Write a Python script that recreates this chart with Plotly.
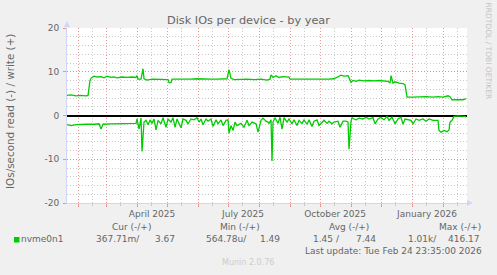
import plotly.graph_objects as go

# ---------------- data ----------------
write_dates = [
    "2025-01-21", "2025-01-25", "2025-01-30", "2025-02-04", "2025-02-09", "2025-02-11",
    "2025-02-13", "2025-02-14", "2025-02-17", "2025-02-20", "2025-02-24", "2025-02-27",
    "2025-03-02", "2025-03-06", "2025-03-09", "2025-03-12", "2025-03-17", "2025-03-22",
    "2025-03-27", "2025-03-31", "2025-04-01", "2025-04-02", "2025-04-05", "2025-04-07",
    "2025-04-08", "2025-04-11", "2025-04-16", "2025-04-21", "2025-04-28", "2025-05-02",
    "2025-05-03", "2025-05-05", "2025-05-06", "2025-05-11", "2025-05-18", "2025-05-25",
    "2025-05-31", "2025-06-07", "2025-06-14", "2025-06-20", "2025-06-27", "2025-06-30",
    "2025-07-02", "2025-07-04", "2025-07-07", "2025-07-14", "2025-07-20", "2025-07-27",
    "2025-08-03", "2025-08-09", "2025-08-12", "2025-08-13", "2025-08-15", "2025-08-18",
    "2025-08-21", "2025-08-25", "2025-08-28", "2025-08-31", "2025-09-01", "2025-09-07",
    "2025-09-14", "2025-09-20", "2025-09-27", "2025-10-04", "2025-10-10", "2025-10-15",
    "2025-10-19", "2025-10-22", "2025-10-25", "2025-10-29", "2025-10-30", "2025-11-01",
    "2025-11-03", "2025-11-06", "2025-11-09", "2025-11-14", "2025-11-19", "2025-11-24",
    "2025-11-29", "2025-12-04", "2025-12-08", "2025-12-10", "2025-12-11", "2025-12-13",
    "2025-12-15", "2025-12-19", "2025-12-23", "2025-12-25", "2025-12-27", "2026-01-02",
    "2026-01-08", "2026-01-15", "2026-01-22", "2026-01-27", "2026-02-01", "2026-02-06",
    "2026-02-08", "2026-02-10", "2026-02-16", "2026-02-21", "2026-02-23", "2026-02-24",
]
write_ios = [
    4.6, 4.7, 4.5, 4.6, 4.5, 4.6,
    8.0, 8.5, 9.0, 8.8, 8.9, 8.6,
    9.0, 8.7, 8.8, 8.6, 8.8, 8.7,
    8.8, 8.7, 9.1, 8.3, 8.3, 10.7,
    8.4, 8.1, 8.3, 8.3, 8.3, 8.2,
    7.5, 7.5, 8.3, 8.3, 8.2, 8.3,
    8.4, 8.3, 8.3, 8.3, 8.3, 8.4,
    10.5, 8.5, 8.2, 8.3, 8.3, 8.2,
    8.3, 8.1, 8.3, 9.3, 8.7, 9.1,
    8.7, 8.9, 8.8, 8.8, 8.3, 8.3,
    8.2, 8.3, 8.3, 8.2, 8.3, 8.4,
    8.9, 9.2, 9.0, 9.1, 8.6, 7.6,
    8.0, 7.8, 8.1, 7.9, 8.0, 7.9,
    8.0, 7.8, 7.8, 7.4, 9.1, 7.4,
    7.7, 7.4, 7.3, 7.0, 4.2, 4.2,
    4.3, 4.3, 4.2, 4.3, 4.2, 4.5,
    4.3, 3.6, 3.6, 3.6, 3.8, 3.67,
]

read_dates = [
    "2025-01-21", "2025-01-25", "2025-01-30", "2025-02-04", "2025-02-10", "2025-02-17",
    "2025-02-22", "2025-02-24", "2025-02-26", "2025-03-06", "2025-03-12", "2025-03-19",
    "2025-03-26", "2025-03-31", "2025-04-01", "2025-04-03", "2025-04-05", "2025-04-06",
    "2025-04-08", "2025-04-10", "2025-04-12", "2025-04-14", "2025-04-16", "2025-04-18",
    "2025-04-20", "2025-04-22", "2025-04-25", "2025-04-27", "2025-04-30", "2025-05-02",
    "2025-05-05", "2025-05-07", "2025-05-09", "2025-05-11", "2025-05-15", "2025-05-17",
    "2025-05-20", "2025-05-22", "2025-05-25", "2025-05-28", "2025-05-31", "2025-06-02",
    "2025-06-04", "2025-06-06", "2025-06-09", "2025-06-11", "2025-06-14", "2025-06-16",
    "2025-06-19", "2025-06-21", "2025-06-24", "2025-06-26", "2025-06-29", "2025-07-01",
    "2025-07-02", "2025-07-04", "2025-07-06", "2025-07-08", "2025-07-10", "2025-07-14",
    "2025-07-17", "2025-07-20", "2025-07-22", "2025-07-25", "2025-07-29", "2025-07-31",
    "2025-08-03", "2025-08-05", "2025-08-08", "2025-08-10", "2025-08-11", "2025-08-13",
    "2025-08-14", "2025-08-15", "2025-08-17", "2025-08-20", "2025-08-22", "2025-08-24",
    "2025-08-26", "2025-08-29", "2025-08-31", "2025-09-03", "2025-09-05", "2025-09-08",
    "2025-09-10", "2025-09-13", "2025-09-15", "2025-09-18", "2025-09-20", "2025-09-23",
    "2025-09-25", "2025-09-28", "2025-09-30", "2025-10-03", "2025-10-05", "2025-10-08",
    "2025-10-10", "2025-10-13", "2025-10-15", "2025-10-19", "2025-10-21", "2025-10-24",
    "2025-10-27", "2025-10-29", "2025-10-30", "2025-11-01", "2025-11-02", "2025-11-04",
    "2025-11-06", "2025-11-09", "2025-11-13", "2025-11-16", "2025-11-19", "2025-11-23",
    "2025-11-25", "2025-11-28", "2025-12-01", "2025-12-04", "2025-12-07", "2025-12-09",
    "2025-12-12", "2025-12-15", "2025-12-18", "2025-12-21", "2025-12-23", "2025-12-25",
    "2025-12-28", "2025-12-31", "2026-01-02", "2026-01-05", "2026-01-08", "2026-01-12",
    "2026-01-15", "2026-01-18", "2026-01-22", "2026-01-25", "2026-01-27", "2026-01-28",
    "2026-01-30", "2026-02-02", "2026-02-05", "2026-02-07", "2026-02-08", "2026-02-10",
    "2026-02-12", "2026-02-16", "2026-02-19", "2026-02-23", "2026-02-24",
]
read_ios = [
    2.1, 2.3, 2.1, 2.0, 2.0, 2.0,
    1.9, 3.1, 2.0, 1.9, 1.9, 1.9,
    1.9, 1.8, 0.8, 3.1, 0.6, 8.2,
    1.5, 1.1, 2.1, 1.0, 1.8, 0.8,
    3.3, 1.1, 1.9, 0.5, 2.7, 0.8,
    1.5, 0.5, 2.7, 0.8, 2.8, 0.8,
    1.1, 1.9, 0.8, 1.0, 0.5, 1.5,
    0.8, 2.1, 0.8, 1.3, 0.8, 2.5,
    1.0, 1.9, 1.0, 2.3, 1.1, 1.0,
    4.0, 2.3, 3.4, 1.5, 2.3, 1.8,
    2.7, 1.1, 2.3, 1.5, 1.9, 3.8,
    1.1, 0.6, 1.3, 1.5, 1.8, 1.0,
    10.4, 1.5, 0.5, 1.8, 0.4, 3.1,
    0.5, 1.5, 0.8, 1.9, 1.0, 2.3,
    1.1, 1.8, 1.0, 2.0, 1.0, 2.5,
    1.3, 1.0, 2.3, 1.5, 1.1, 1.8,
    1.3, 1.9, 1.5, 1.3, 2.7, 1.3,
    1.3, 1.5, 7.7, 1.3, 0.5, 0.8,
    1.0, 0.6, 0.8, 0.4, 0.8, 0.5,
    1.9, 0.8, 0.4, 1.0, 0.2, 1.1,
    0.4, 1.9, 0.8, 0.4, 2.0, 0.8,
    1.0, 1.1, 1.9, 0.8, 1.1, 0.8,
    1.3, 0.8, 1.1, 1.0, 1.1, 3.4,
    3.8, 3.4, 3.7, 3.3, 1.5, 1.1,
    0.2, 0.1, 0.1, 0.2, 0.37,
]

x_start = "2025-01-20 23:35"
x_end = "2026-02-24 23:35"
month_label_dates = ["2025-04-16", "2025-07-16", "2025-10-16", "2026-01-16"]
month_labels = ["April 2025", "July 2025", "October 2025", "January 2026"]
y_ticks = [-20, -10, 0, 10, 20]
y_tick_labels = ["-20", "-10", "0", "10", "20"]

series_name = "nvme0n1"
stat_headers = ["Cur (-/+)", "Min (-/+)", "Avg (-/+)", "Max (-/+)"]
read_stats = ["367.71m/", "564.78u/", "1.45 /", "1.01k/"]
write_stats = ["3.67", "1.49", "7.44", "416.17"]
title_text = "Disk IOs per device - by year"
y_title = "IOs/second read (-) / write (+)"
last_update = "Last update: Tue Feb 24 23:35:00 2026"
munin_version = "Munin 2.0.76"
watermark = "RRDTOOL / TOBI OETIKER"

# ---------------- style / geometry ----------------
FW, FH = 497, 275
L, T, W, H = 67, 28, 400, 175
FONT = "DejaVu Sans"
TXT = "#666666"
GREEN = "#00CC00"
MGRID = "rgba(225,120,120,0.75)"
GRID = "rgba(170,170,170,0.6)"
AXIS = "#CFD6F8"


def fx(px):
    return (px - L) / W


def fy(py):
    return (T + H - py) / H


fig = go.Figure()
fig.add_trace(go.Scatter(x=write_dates, y=write_ios, mode="lines",
                         line=dict(color=GREEN, width=1.3), xaxis="x", yaxis="y",
                         showlegend=False, hoverinfo="skip"))
fig.add_trace(go.Scatter(x=read_dates, y=[-v for v in read_ios], mode="lines",
                         line=dict(color=GREEN, width=1.3), xaxis="x2", yaxis="y",
                         showlegend=False, hoverinfo="skip"))

fig.update_layout(
    width=FW, height=FH,
    margin=dict(l=L, r=FW - L - W, t=T, b=FH - T - H, pad=0),
    paper_bgcolor="#F0F0F0", plot_bgcolor="#FFFFFF",
    font=dict(family=FONT, size=9, color=TXT),
    showlegend=False,
    xaxis=dict(
        type="date", range=[x_start, x_end],
        tickmode="linear", tick0="2025-02-01", dtick="M1",
        showticklabels=False,
        showgrid=True, gridcolor=MGRID, griddash="1px,2px", gridwidth=1,
        ticks="outside", ticklen=3, tickcolor=MGRID,
        minor=dict(tickmode="linear", tick0="2025-01-15", dtick="M1",
                   showgrid=True, gridcolor=GRID, griddash="1px,2px",
                   ticks="outside", ticklen=2, tickcolor=GRID),
        showline=True, linecolor=AXIS, linewidth=1,
        zeroline=False,
    ),
    xaxis2=dict(
        type="date", range=[x_start, x_end], overlaying="x", side="bottom",
        anchor="y", tickmode="array", tickvals=month_label_dates, ticktext=month_labels,
        showgrid=False, ticks="", showline=False, zeroline=False,
        ticklabelstandoff=4,
        tickfont=dict(family=FONT, size=9, color=TXT),
    ),
    yaxis=dict(
        range=[-20, 20], tickmode="array", tickvals=y_ticks, ticktext=y_tick_labels,
        showgrid=True, gridcolor=MGRID, griddash="1px,2px", gridwidth=1,
        minor=dict(tickmode="linear", tick0=0, dtick=2, showgrid=True,
                   gridcolor=GRID, griddash="1px,2px"),
        ticks="outside", ticklen=3, tickcolor=MGRID,
        ticklabelstandoff=2,
        tickfont=dict(family=FONT, size=9, color=TXT),
        showline=True, linecolor=AXIS, linewidth=1,
        zeroline=True, zerolinecolor="#000000", zerolinewidth=2,
    ),
)

ann = []
ann.append(dict(text=title_text, x=fx(248), y=fy(20.5), xanchor="center", yanchor="middle",
                font=dict(family=FONT, size=11.3, color=TXT)))
ann.append(dict(text=y_title, x=fx(10), y=fy(112), xanchor="center", yanchor="middle",
                textangle=-90, font=dict(family=FONT, size=10.4, color=TXT)))
ann.append(dict(text=watermark, x=fx(488.5), y=fy(51), xanchor="center", yanchor="middle",
                textangle=90, font=dict(family=FONT, size=7.5, color="#C4C4C4")))
header_centers = [131, 240, 349, 459.5]
for hc, h in zip(header_centers, stat_headers):
    ann.append(dict(text=h, x=fx(hc), y=fy(226.5), xanchor="center", yanchor="middle",
                    font=dict(family=FONT, size=9, color=TXT)))
ann.append(dict(text=series_name, x=fx(19.5), y=fy(239.3), xanchor="left", yanchor="middle",
                font=dict(family=FONT, size=9, color=TXT)))
read_right = [140.5, 247.5, 340.5, 437.5]
write_right = [176, 281, 376.5, 480.5]
for rr, s in zip(read_right, read_stats):
    ann.append(dict(text=s, x=fx(rr), y=fy(239.3), xanchor="right", yanchor="middle",
                    font=dict(family=FONT, size=9, color=TXT)))
for wr, s in zip(write_right, write_stats):
    ann.append(dict(text=s, x=fx(wr), y=fy(239.3), xanchor="right", yanchor="middle",
                    font=dict(family=FONT, size=9, color=TXT)))
ann.append(dict(text=last_update, x=fx(482.5), y=fy(251), xanchor="right", yanchor="middle",
                font=dict(family=FONT, size=9, color=TXT)))
ann.append(dict(text=munin_version, x=fx(248), y=fy(262.7), xanchor="center", yanchor="middle",
                font=dict(family=FONT, size=8, color="#CCCCCC")))
for a in ann:
    a.update(xref="paper", yref="paper", showarrow=False, borderpad=0)
fig.update_layout(annotations=ann)

shapes = [
    # arrow at the top of the value axis
    dict(type="path", xref="paper", yref="paper",
         path=f"M {fx(64)},{fy(27)} L {fx(70)},{fy(27)} L {fx(67)},{fy(21)} Z",
         fillcolor=AXIS, line=dict(width=0)),
    # arrow at the right end of the time axis
    dict(type="path", xref="paper", yref="paper",
         path=f"M {fx(467)},{fy(200)} L {fx(467)},{fy(206)} L {fx(473)},{fy(203)} Z",
         fillcolor=AXIS, line=dict(width=0)),
    # legend swatch
    dict(type="rect", xref="paper", yref="paper",
         x0=fx(14), x1=fx(19.5), y0=fy(242.5), y1=fy(237),
         fillcolor=GREEN, line=dict(width=0)),
]
fig.update_layout(shapes=shapes)

fig.write_html("out.html")
